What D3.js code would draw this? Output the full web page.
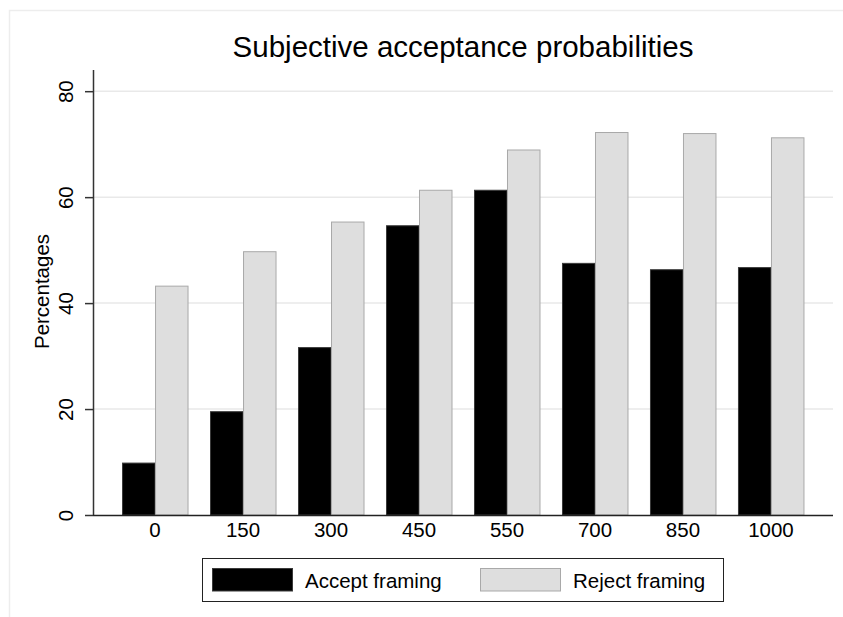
<!DOCTYPE html>
<html>
<head>
<meta charset="utf-8">
<script src="https://cdn.jsdelivr.net/npm/d3@7"></script>
<style>
  html, body { margin: 0; padding: 0; background: #ffffff; }
  svg { display: block; }
  text { font-family: "Liberation Sans", Arial, Helvetica, sans-serif; fill: #000; }
</style>
</head>
<body>
<svg id="chart" width="843" height="617"></svg>
<script>
// ---- data ----
const categories = ["0", "150", "300", "450", "550", "700", "850", "1000"];
const acceptFraming = [9.8, 19.5, 31.6, 54.6, 61.3, 47.5, 46.3, 46.7];
const rejectFraming = [43.2, 49.7, 55.3, 61.3, 68.9, 72.2, 72.0, 71.2];
const seriesNames = ["Accept framing", "Reject framing"];
const yTicks = [0, 20, 40, 60, 80];
const titleText = "Subjective acceptance probabilities";
const yLabel = "Percentages";

// ---- styles ----
const fills = { "Accept framing": "#000000", "Reject framing": "#dedede" };
const strokes = { "Accept framing": "#3a3a3a", "Reject framing": "#a9a9a9" };

const svg = d3.select("#chart");

// outer panel border (light)
svg.append("rect").attr("x", 9.5).attr("y", 10.5).attr("width", 850).attr("height", 620)
  .attr("fill", "#fff").attr("stroke", "#ededed").attr("stroke-width", 1.5);

const plot = { left: 93, right: 833, top: 70, bottom: 515 };

const y = d3.scaleLinear().domain([0, 84]).range([plot.bottom, plot.top]);
const x0 = d3.scaleBand().domain(categories).range([plot.left, plot.right])
  .paddingInner(0.25).paddingOuter(0.33);
const x1 = d3.scaleBand().domain(seriesNames).range([0, x0.bandwidth()]).padding(0);

// gridlines
svg.append("g").selectAll("line").data(yTicks.filter(d => d > 0)).join("line")
  .attr("x1", plot.left).attr("x2", plot.right)
  .attr("y1", d => y(d)).attr("y2", d => y(d))
  .attr("stroke", "#e9e9e9").attr("stroke-width", 1.5);

// bars
const rows = categories.map((c, i) => ({ cat: c, vals: [
  { s: seriesNames[0], v: acceptFraming[i] },
  { s: seriesNames[1], v: rejectFraming[i] }
]}));

const groups = svg.append("g").selectAll("g").data(rows).join("g")
  .attr("transform", d => `translate(${x0(d.cat)},0)`);
groups.selectAll("rect").data(d => d.vals).join("rect")
  .attr("x", d => x1(d.s) + 0.5)
  .attr("y", d => y(d.v))
  .attr("width", x1.bandwidth() - 0.5)
  .attr("height", d => y(0) - y(d.v))
  .attr("fill", d => fills[d.s])
  .attr("stroke", d => strokes[d.s]).attr("stroke-width", 1);

// y axis
const yAxis = svg.append("g").attr("transform", `translate(${plot.left},0)`)
  .call(d3.axisLeft(y).tickValues(yTicks).tickSize(8).tickPadding(12).tickFormat(d3.format("d")));
yAxis.select(".domain").attr("stroke", "#333").attr("stroke-width", 1.5)
  .attr("d", `M0.5,${plot.top}V${plot.bottom}`);
yAxis.selectAll(".tick line").attr("stroke", "#333").attr("stroke-width", 1.5);
yAxis.selectAll(".tick text")
  .attr("font-size", 20.5)
  .attr("text-anchor", "middle")
  .attr("x", 0).attr("y", 0)
  .attr("dy", 0)
  .attr("transform", "translate(-20,0) rotate(-90)");

// x axis
const xAxis = svg.append("g").attr("transform", `translate(0,${plot.bottom})`)
  .call(d3.axisBottom(x0).tickSize(0).tickPadding(7));
xAxis.select(".domain").attr("stroke", "#222").attr("stroke-width", 1.5)
  .attr("d", `M${plot.left},0.5H${plot.right}`);
xAxis.selectAll(".tick text").attr("font-size", 20.5).attr("dy", "0.71em");

// y label
svg.append("text")
  .attr("transform", `translate(49,${(plot.top + plot.bottom) / 2 - 1}) rotate(-90)`)
  .attr("text-anchor", "middle").attr("font-size", 20.5)
  .text(yLabel);

// title
svg.append("text").attr("x", 463).attr("y", 56.5)
  .attr("text-anchor", "middle").attr("font-size", 29.5)
  .text(titleText);

// legend
const lg = svg.append("g");
lg.append("rect").attr("x", 202.5).attr("y", 558.5).attr("width", 521).attr("height", 43)
  .attr("fill", "#fff").attr("stroke", "#222").attr("stroke-width", 1);
const legendItems = [
  { s: seriesNames[0], sx: 212, tx: 305 },
  { s: seriesNames[1], sx: 480, tx: 573 }
];
const li = lg.selectAll("g.item").data(legendItems).join("g").attr("class", "item");
li.append("rect").attr("x", d => d.sx + 0.5).attr("y", 568.5).attr("width", 80).attr("height", 22.5)
  .attr("fill", d => fills[d.s]).attr("stroke", d => strokes[d.s]).attr("stroke-width", 1);
li.append("text").attr("x", d => d.tx).attr("y", 588).attr("font-size", 20.5).text(d => d.s);
</script>
</body>
</html>
